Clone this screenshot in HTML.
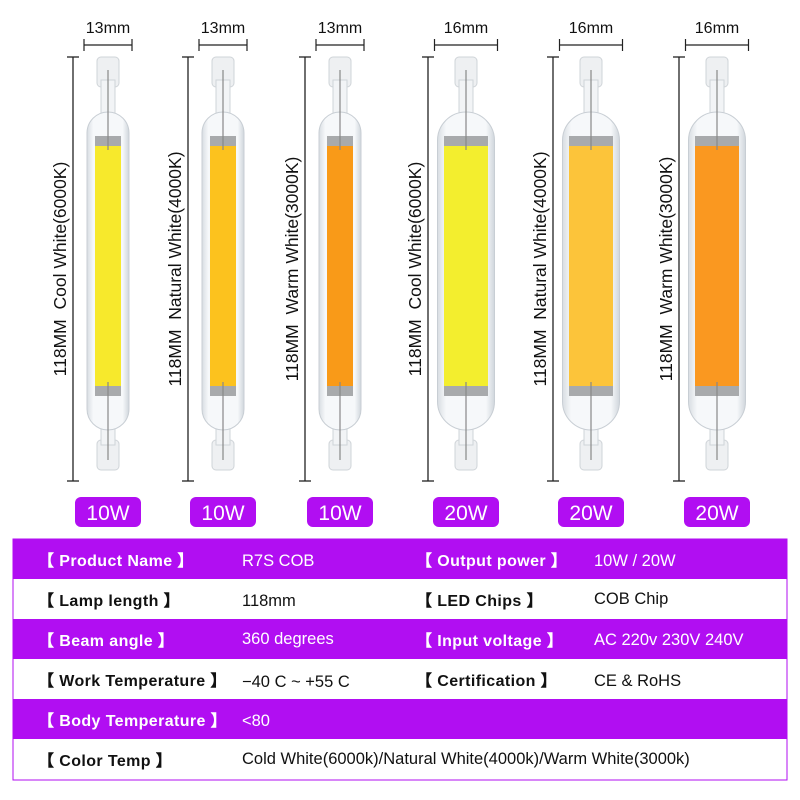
<!DOCTYPE html>
<html><head><meta charset="utf-8"><style>
body{margin:0;background:#fff;width:800px;height:800px;overflow:hidden;font-family:"Liberation Sans",sans-serif}
svg{position:absolute;left:0;top:0}
</style></head><body>
<svg width="800" height="800" viewBox="0 0 800 800" font-family="Liberation Sans, sans-serif">
<defs>
<linearGradient id="gl" x1="0" x2="1"><stop offset="0" stop-color="#d8dde2"/><stop offset="0.15" stop-color="#f6f8fa"/><stop offset="0.85" stop-color="#f6f8fa"/><stop offset="1" stop-color="#d0d6dc"/></linearGradient>
</defs>
<g id="lamps"></g>
<g>
<rect x="13" y="539" width="774" height="241" fill="#fff" stroke="#b10ef2" stroke-width="1"/>
<rect x="13" y="539" width="774" height="40" fill="#b10ef2"/>
<rect x="13" y="619" width="774" height="40" fill="#b10ef2"/>
<rect x="13" y="699" width="774" height="40" fill="#b10ef2"/>
<g font-size="16" font-weight="bold" letter-spacing="0.4">
<text x="38" y="566" fill="#fff">【 Product Name 】</text>
<text x="38" y="606" fill="#111">【 Lamp length 】</text>
<text x="38" y="646" fill="#fff">【 Beam angle 】</text>
<text x="38" y="686" fill="#111">【 Work Temperature 】</text>
<text x="38" y="726" fill="#fff">【 Body Temperature 】</text>
<text x="38" y="766" fill="#111">【 Color Temp 】</text>
<text x="416" y="566" fill="#fff">【 Output power 】</text>
<text x="416" y="606" fill="#111">【 LED Chips 】</text>
<text x="416" y="646" fill="#fff">【 Input voltage 】</text>
<text x="416" y="686" fill="#111">【 Certification 】</text>
</g>
<g font-size="16.5">
<text x="242" y="566" fill="#fff">R7S COB</text>
<text x="242" y="606" fill="#111">118mm</text>
<text x="242" y="644" fill="#fff">360 degrees</text>
<text x="242" y="687" fill="#111">−40 C ~ +55 C</text>
<text x="242" y="726" fill="#fff">&lt;80</text>
<text x="242" y="764" fill="#111">Cold White(6000k)/Natural White(4000k)/Warm White(3000k)</text>
<text x="594" y="566" fill="#fff">10W / 20W</text>
<text x="594" y="604" fill="#111">COB Chip</text>
<text x="594" y="645" fill="#fff">AC 220v 230V 240V</text>
<text x="594" y="686" fill="#111">CE &amp; RoHS</text>
</g>
</g>
</svg>
<script>
const g=document.getElementById('lamps');
const L=[
 {c:108,w:42,cw:26,col:'#f7e92c',lx:73,t:'118MM  Cool White(6000K)',mm:'13mm',p:'10W'},
 {c:223,w:42,cw:26,col:'#fcc21e',lx:188,t:'118MM  Natural White(4000K)',mm:'13mm',p:'10W'},
 {c:340,w:42,cw:26,col:'#f99a18',lx:305,t:'118MM  Warm White(3000K)',mm:'13mm',p:'10W'},
 {c:466,w:57,cw:44,col:'#f3ee2e',lx:428,t:'118MM  Cool White(6000K)',mm:'16mm',p:'20W'},
 {c:591,w:57,cw:44,col:'#fcc43a',lx:553,t:'118MM  Natural White(4000K)',mm:'16mm',p:'20W'},
 {c:717,w:57,cw:44,col:'#fa9820',lx:679,t:'118MM  Warm White(3000K)',mm:'16mm',p:'20W'}];
let s='';
for(const l of L){
 const c=l.c,h=l.w/2,ch=l.cw/2;
 s+=`<rect x="${c-11}" y="57" width="22" height="30" rx="4" fill="#eef0f2" stroke="#cfd4d8"/>`;
 s+=`<rect x="${c-11}" y="440" width="22" height="30" rx="4" fill="#eef0f2" stroke="#cfd4d8"/>`;
 s+=`<rect x="${c-7}" y="80" width="14" height="40" fill="#f2f4f6" stroke="#cfd4d8"/>`;
 s+=`<rect x="${c-7}" y="410" width="14" height="35" fill="#f2f4f6" stroke="#cfd4d8"/>`;
 s+=`<rect x="${c-h}" y="112" width="${l.w}" height="318" rx="${h}" fill="url(#gl)" stroke="#c8ced4"/>`;
 s+=`<rect x="${c-ch}" y="136" width="${l.cw}" height="260" fill="#a8aaac"/>`;
 s+=`<rect x="${c-ch}" y="146" width="${l.cw}" height="240" fill="${l.col}"/>`;
 s+=`<line x1="${c}" y1="70" x2="${c}" y2="150" stroke="#888" stroke-width="1.2"/>`;
 s+=`<line x1="${c}" y1="382" x2="${c}" y2="460" stroke="#888" stroke-width="1.2"/>`;
 s+=`<line x1="${l.lx}" y1="57" x2="${l.lx}" y2="481" stroke="#222" stroke-width="1.3"/>`;
 s+=`<line x1="${l.lx-6}" y1="57" x2="${l.lx+6}" y2="57" stroke="#222" stroke-width="1.3"/>`;
 s+=`<line x1="${l.lx-6}" y1="481" x2="${l.lx+6}" y2="481" stroke="#222" stroke-width="1.3"/>`;
 s+=`<text transform="translate(${l.lx-7},269) rotate(-90)" text-anchor="middle" font-size="17.5" fill="#111" style="white-space:pre">${l.t}</text>`;
 s+=`<line x1="${c-h-3}" y1="45" x2="${c+h+3}" y2="45" stroke="#222" stroke-width="1.2"/>`;
 s+=`<line x1="${c-h-3}" y1="39" x2="${c-h-3}" y2="51" stroke="#222" stroke-width="1.2"/>`;
 s+=`<line x1="${c+h+3}" y1="39" x2="${c+h+3}" y2="51" stroke="#222" stroke-width="1.2"/>`;
 s+=`<text x="${c}" y="33" text-anchor="middle" font-size="16" fill="#111">${l.mm}</text>`;
 s+=`<rect x="${c-33}" y="497" width="66" height="30" rx="6" fill="#b10ef2"/>`;
 s+=`<text x="${c}" y="520" text-anchor="middle" font-size="21" fill="#fff">${l.p}</text>`;
}
g.innerHTML=s;
</script>
</body></html>
